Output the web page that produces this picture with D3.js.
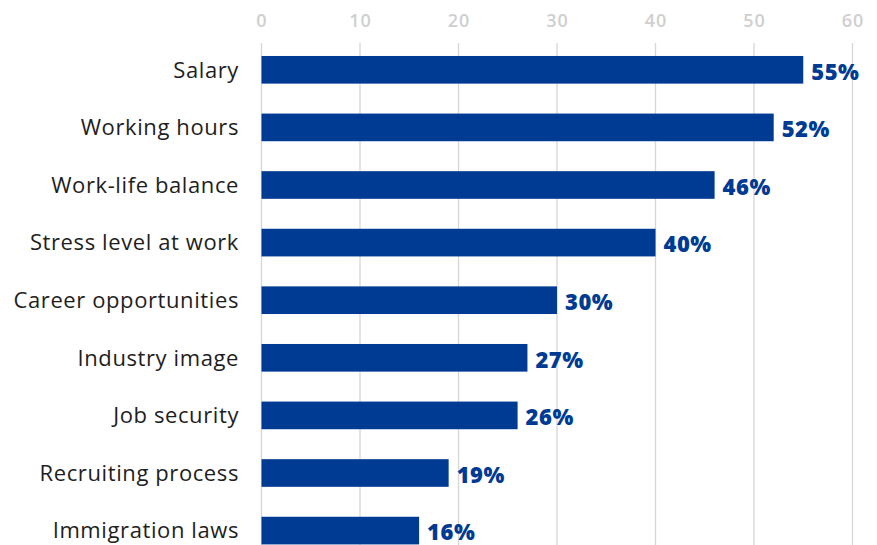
<!DOCTYPE html>
<html>
<head>
<meta charset="utf-8">
<script src="https://cdn.jsdelivr.net/npm/d3@7"></script>
<style>
  html, body { margin: 0; padding: 0; background: #fff; }
  svg { display: block; }
</style>
</head>
<body>
<svg id="chart" width="877" height="545"></svg>
<script>
// Reasons cited, share of respondents (%)
const categories = [
  "Salary",
  "Working hours",
  "Work-life balance",
  "Stress level at work",
  "Career opportunities",
  "Industry image",
  "Job security",
  "Recruiting process",
  "Immigration laws"
];
const values = [55, 52, 46, 40, 30, 27, 26, 19, 16];
const tickValues = [0, 10, 20, 30, 40, 50, 60];

const svg = d3.select("#chart");
const width = 877, height = 545;
const font = "'Open Sans', sans-serif";
const barColor = "#003b93";

const x = d3.scaleLinear().domain([0, 60]).range([261.5, 852.5]);
const y = d3.scaleBand()
  .domain(categories)
  .range([41, 41 + 57.6 * categories.length])
  .paddingInner(0.52)
  .paddingOuter(0.26);

// Vertical gridlines below the tick labels
svg.append("g")
  .selectAll("line")
  .data(tickValues)
  .join("line")
  .attr("x1", d => x(d)).attr("x2", d => x(d))
  .attr("y1", 43).attr("y2", height)
  .attr("stroke", "#d6d6d6")
  .attr("stroke-width", 1.3);

// Top axis labels
const axis = d3.axisTop(x).tickValues(tickValues).tickSize(0).tickPadding(0);
const gAxis = svg.append("g")
  .attr("transform", "translate(0,27)")
  .call(axis);
gAxis.select(".domain").remove();
gAxis.selectAll("text")
  .attr("font-family", font)
  .attr("font-size", 18)
  .attr("font-weight", 600)
  .attr("letter-spacing", 1)
  .attr("fill", "#cfcfcf");

// Bars
const rows = categories.map((c, i) => ({ c, v: values[i] }));
svg.append("g")
  .selectAll("rect")
  .data(rows)
  .join("rect")
  .attr("x", x(0))
  .attr("y", d => y(d.c))
  .attr("width", d => x(d.v) - x(0))
  .attr("height", y.bandwidth())
  .attr("fill", barColor);

// Category labels
svg.append("g")
  .selectAll("text")
  .data(rows)
  .join("text")
  .attr("x", 239)
  .attr("y", d => y(d.c) + y.bandwidth() / 2)
  .attr("dy", "0.35em")
  .attr("text-anchor", "end")
  .attr("font-family", font)
  .attr("font-size", 22)
  .attr("letter-spacing", 0.6)
  .attr("fill", "#1e1e1e")
  .text(d => d.c);

// Value labels
svg.append("g")
  .selectAll("text")
  .data(rows)
  .join("text")
  .attr("x", d => x(d.v) + 8)
  .attr("y", d => y(d.c) + y.bandwidth() / 2 + 2)
  .attr("dy", "0.35em")
  .attr("font-family", font)
  .attr("font-size", 22)
  .attr("font-weight", 800)
  .attr("letter-spacing", 0.5)
  .attr("fill", barColor)
  .text(d => d.v + "%");
</script>
</body>
</html>
